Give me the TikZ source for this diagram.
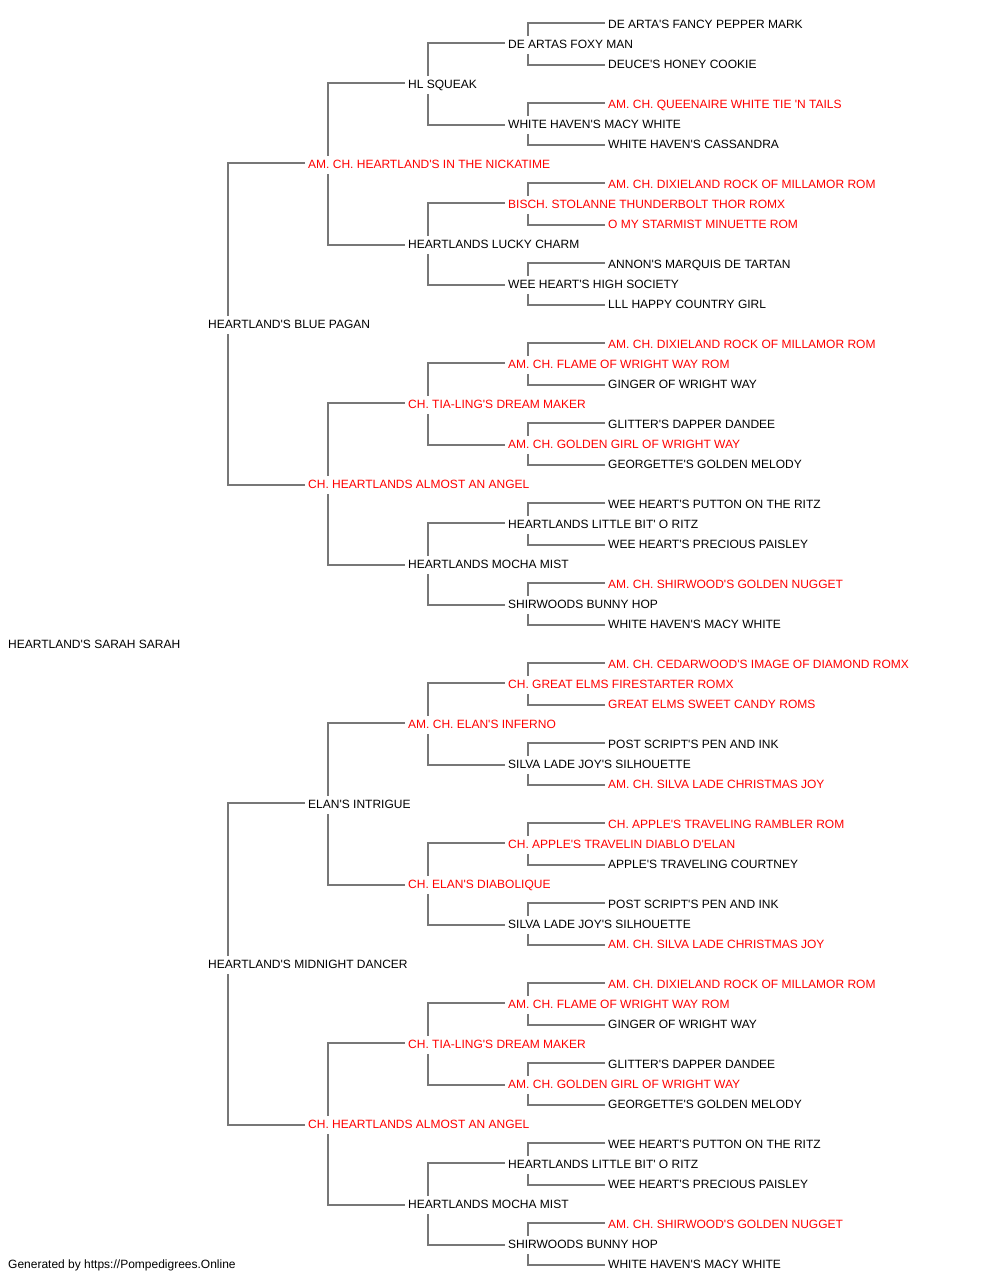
\documentclass[tikz,border=0pt]{standalone}
\usepackage{fontspec}
\newfontfamily\pedfont{Liberation Sans}
\definecolor{champred}{RGB}{255,0,0}
\definecolor{linegray}{RGB}{119,119,119}

\begin{document}
\begin{tikzpicture}[x=1pt,y=-1pt,
  dog/.style={anchor=base west,inner xsep=3pt,inner ysep=3pt,text height=9pt,text depth=3pt,
    font=\pedfont\fontsize{12}{14}\selectfont},
  champ/.style={dog,text=champred},
  link/.style={draw=linegray,line width=2pt}]
\useasboundingbox (0,0) rectangle (1000,1280);

% Subject
\node[dog] (g0) at (5,648) {HEARTLAND'S SARAH SARAH};

% Parents
\node[dog] (g1-1) at (205,328) {HEARTLAND'S BLUE PAGAN};
\node[dog] (g1-2) at (205,968) {HEARTLAND'S MIDNIGHT DANCER};

% Grandparents
\node[champ] (g2-1) at (305,168) {AM. CH. HEARTLAND'S IN THE NICKATIME};
\node[champ] (g2-2) at (305,488) {CH. HEARTLANDS ALMOST AN ANGEL};
\node[dog]   (g2-3) at (305,808) {ELAN'S INTRIGUE};
\node[champ] (g2-4) at (305,1128) {CH. HEARTLANDS ALMOST AN ANGEL};

% Great-grandparents
\node[dog]   (g3-1) at (405,88) {HL SQUEAK};
\node[dog]   (g3-2) at (405,248) {HEARTLANDS LUCKY CHARM};
\node[champ] (g3-3) at (405,408) {CH. TIA-LING'S DREAM MAKER};
\node[dog]   (g3-4) at (405,568) {HEARTLANDS MOCHA MIST};
\node[champ] (g3-5) at (405,728) {AM. CH. ELAN'S INFERNO};
\node[champ] (g3-6) at (405,888) {CH. ELAN'S DIABOLIQUE};
\node[champ] (g3-7) at (405,1048) {CH. TIA-LING'S DREAM MAKER};
\node[dog]   (g3-8) at (405,1208) {HEARTLANDS MOCHA MIST};

% Fourth generation
\node[dog]   (g4-1) at (505,48) {DE ARTAS FOXY MAN};
\node[dog]   (g4-2) at (505,128) {WHITE HAVEN'S MACY WHITE};
\node[champ] (g4-3) at (505,208) {BISCH. STOLANNE THUNDERBOLT THOR ROMX};
\node[dog]   (g4-4) at (505,288) {WEE HEART'S HIGH SOCIETY};
\node[champ] (g4-5) at (505,368) {AM. CH. FLAME OF WRIGHT WAY ROM};
\node[champ] (g4-6) at (505,448) {AM. CH. GOLDEN GIRL OF WRIGHT WAY};
\node[dog]   (g4-7) at (505,528) {HEARTLANDS LITTLE BIT' O RITZ};
\node[dog]   (g4-8) at (505,608) {SHIRWOODS BUNNY HOP};
\node[champ] (g4-9) at (505,688) {CH. GREAT ELMS FIRESTARTER ROMX};
\node[dog]   (g4-10) at (505,768) {SILVA LADE JOY'S SILHOUETTE};
\node[champ] (g4-11) at (505,848) {CH. APPLE'S TRAVELIN DIABLO D'ELAN};
\node[dog]   (g4-12) at (505,928) {SILVA LADE JOY'S SILHOUETTE};
\node[champ] (g4-13) at (505,1008) {AM. CH. FLAME OF WRIGHT WAY ROM};
\node[champ] (g4-14) at (505,1088) {AM. CH. GOLDEN GIRL OF WRIGHT WAY};
\node[dog]   (g4-15) at (505,1168) {HEARTLANDS LITTLE BIT' O RITZ};
\node[dog]   (g4-16) at (505,1248) {SHIRWOODS BUNNY HOP};

% Fifth generation
\node[dog]   (g5-1) at (605,28) {DE ARTA'S FANCY PEPPER MARK};
\node[dog]   (g5-2) at (605,68) {DEUCE'S HONEY COOKIE};
\node[champ] (g5-3) at (605,108) {AM. CH. QUEENAIRE WHITE TIE 'N TAILS};
\node[dog]   (g5-4) at (605,148) {WHITE HAVEN'S CASSANDRA};
\node[champ] (g5-5) at (605,188) {AM. CH. DIXIELAND ROCK OF MILLAMOR ROM};
\node[champ] (g5-6) at (605,228) {O MY STARMIST MINUETTE ROM};
\node[dog]   (g5-7) at (605,268) {ANNON'S MARQUIS DE TARTAN};
\node[dog]   (g5-8) at (605,308) {LLL HAPPY COUNTRY GIRL};
\node[champ] (g5-9) at (605,348) {AM. CH. DIXIELAND ROCK OF MILLAMOR ROM};
\node[dog]   (g5-10) at (605,388) {GINGER OF WRIGHT WAY};
\node[dog]   (g5-11) at (605,428) {GLITTER'S DAPPER DANDEE};
\node[dog]   (g5-12) at (605,468) {GEORGETTE'S GOLDEN MELODY};
\node[dog]   (g5-13) at (605,508) {WEE HEART'S PUTTON ON THE RITZ};
\node[dog]   (g5-14) at (605,548) {WEE HEART'S PRECIOUS PAISLEY};
\node[champ] (g5-15) at (605,588) {AM. CH. SHIRWOOD'S GOLDEN NUGGET};
\node[dog]   (g5-16) at (605,628) {WHITE HAVEN'S MACY WHITE};
\node[champ] (g5-17) at (605,668) {AM. CH. CEDARWOOD'S IMAGE OF DIAMOND ROMX};
\node[champ] (g5-18) at (605,708) {GREAT ELMS SWEET CANDY ROMS};
\node[dog]   (g5-19) at (605,748) {POST SCRIPT'S PEN AND INK};
\node[champ] (g5-20) at (605,788) {AM. CH. SILVA LADE CHRISTMAS JOY};
\node[champ] (g5-21) at (605,828) {CH. APPLE'S TRAVELING RAMBLER ROM};
\node[dog]   (g5-22) at (605,868) {APPLE'S TRAVELING COURTNEY};
\node[dog]   (g5-23) at (605,908) {POST SCRIPT'S PEN AND INK};
\node[champ] (g5-24) at (605,948) {AM. CH. SILVA LADE CHRISTMAS JOY};
\node[champ] (g5-25) at (605,988) {AM. CH. DIXIELAND ROCK OF MILLAMOR ROM};
\node[dog]   (g5-26) at (605,1028) {GINGER OF WRIGHT WAY};
\node[dog]   (g5-27) at (605,1068) {GLITTER'S DAPPER DANDEE};
\node[dog]   (g5-28) at (605,1108) {GEORGETTE'S GOLDEN MELODY};
\node[dog]   (g5-29) at (605,1148) {WEE HEART'S PUTTON ON THE RITZ};
\node[dog]   (g5-30) at (605,1188) {WEE HEART'S PRECIOUS PAISLEY};
\node[champ] (g5-31) at (605,1228) {AM. CH. SHIRWOOD'S GOLDEN NUGGET};
\node[dog]   (g5-32) at (605,1268) {WHITE HAVEN'S MACY WHITE};

% Footer
\node[dog] (credit) at (5,1268) {Generated by https://Pompedigrees.Online};

% Links parents -> grandparents
\draw[link] ([yshift=2pt]g2-1.west) -| ([xshift=23pt]g1-1.north west) (g2-2.west) -| ([xshift=23pt]g1-1.south west);
\draw[link] ([yshift=2pt]g2-3.west) -| ([xshift=23pt]g1-2.north west) (g2-4.west) -| ([xshift=23pt]g1-2.south west);

% Links grandparents -> great-grandparents
\draw[link] ([yshift=2pt]g3-1.west) -| ([xshift=23pt]g2-1.north west) (g3-2.west) -| ([xshift=23pt]g2-1.south west);
\draw[link] ([yshift=2pt]g3-3.west) -| ([xshift=23pt]g2-2.north west) (g3-4.west) -| ([xshift=23pt]g2-2.south west);
\draw[link] ([yshift=2pt]g3-5.west) -| ([xshift=23pt]g2-3.north west) (g3-6.west) -| ([xshift=23pt]g2-3.south west);
\draw[link] ([yshift=2pt]g3-7.west) -| ([xshift=23pt]g2-4.north west) (g3-8.west) -| ([xshift=23pt]g2-4.south west);

% Links great-grandparents -> fourth generation
\draw[link] ([yshift=2pt]g4-1.west) -| ([xshift=23pt]g3-1.north west) (g4-2.west) -| ([xshift=23pt]g3-1.south west);
\draw[link] ([yshift=2pt]g4-3.west) -| ([xshift=23pt]g3-2.north west) (g4-4.west) -| ([xshift=23pt]g3-2.south west);
\draw[link] ([yshift=2pt]g4-5.west) -| ([xshift=23pt]g3-3.north west) (g4-6.west) -| ([xshift=23pt]g3-3.south west);
\draw[link] ([yshift=2pt]g4-7.west) -| ([xshift=23pt]g3-4.north west) (g4-8.west) -| ([xshift=23pt]g3-4.south west);
\draw[link] ([yshift=2pt]g4-9.west) -| ([xshift=23pt]g3-5.north west) (g4-10.west) -| ([xshift=23pt]g3-5.south west);
\draw[link] ([yshift=2pt]g4-11.west) -| ([xshift=23pt]g3-6.north west) (g4-12.west) -| ([xshift=23pt]g3-6.south west);
\draw[link] ([yshift=2pt]g4-13.west) -| ([xshift=23pt]g3-7.north west) (g4-14.west) -| ([xshift=23pt]g3-7.south west);
\draw[link] ([yshift=2pt]g4-15.west) -| ([xshift=23pt]g3-8.north west) (g4-16.west) -| ([xshift=23pt]g3-8.south west);

% Links fourth -> fifth generation
\draw[link] ([yshift=2pt]g5-1.west) -| ([xshift=23pt]g4-1.north west) (g5-2.west) -| ([xshift=23pt]g4-1.south west);
\draw[link] ([yshift=2pt]g5-3.west) -| ([xshift=23pt]g4-2.north west) (g5-4.west) -| ([xshift=23pt]g4-2.south west);
\draw[link] ([yshift=2pt]g5-5.west) -| ([xshift=23pt]g4-3.north west) (g5-6.west) -| ([xshift=23pt]g4-3.south west);
\draw[link] ([yshift=2pt]g5-7.west) -| ([xshift=23pt]g4-4.north west) (g5-8.west) -| ([xshift=23pt]g4-4.south west);
\draw[link] ([yshift=2pt]g5-9.west) -| ([xshift=23pt]g4-5.north west) (g5-10.west) -| ([xshift=23pt]g4-5.south west);
\draw[link] ([yshift=2pt]g5-11.west) -| ([xshift=23pt]g4-6.north west) (g5-12.west) -| ([xshift=23pt]g4-6.south west);
\draw[link] ([yshift=2pt]g5-13.west) -| ([xshift=23pt]g4-7.north west) (g5-14.west) -| ([xshift=23pt]g4-7.south west);
\draw[link] ([yshift=2pt]g5-15.west) -| ([xshift=23pt]g4-8.north west) (g5-16.west) -| ([xshift=23pt]g4-8.south west);
\draw[link] ([yshift=2pt]g5-17.west) -| ([xshift=23pt]g4-9.north west) (g5-18.west) -| ([xshift=23pt]g4-9.south west);
\draw[link] ([yshift=2pt]g5-19.west) -| ([xshift=23pt]g4-10.north west) (g5-20.west) -| ([xshift=23pt]g4-10.south west);
\draw[link] ([yshift=2pt]g5-21.west) -| ([xshift=23pt]g4-11.north west) (g5-22.west) -| ([xshift=23pt]g4-11.south west);
\draw[link] ([yshift=2pt]g5-23.west) -| ([xshift=23pt]g4-12.north west) (g5-24.west) -| ([xshift=23pt]g4-12.south west);
\draw[link] ([yshift=2pt]g5-25.west) -| ([xshift=23pt]g4-13.north west) (g5-26.west) -| ([xshift=23pt]g4-13.south west);
\draw[link] ([yshift=2pt]g5-27.west) -| ([xshift=23pt]g4-14.north west) (g5-28.west) -| ([xshift=23pt]g4-14.south west);
\draw[link] ([yshift=2pt]g5-29.west) -| ([xshift=23pt]g4-15.north west) (g5-30.west) -| ([xshift=23pt]g4-15.south west);
\draw[link] ([yshift=2pt]g5-31.west) -| ([xshift=23pt]g4-16.north west) (g5-32.west) -| ([xshift=23pt]g4-16.south west);
\end{tikzpicture}
\end{document}
